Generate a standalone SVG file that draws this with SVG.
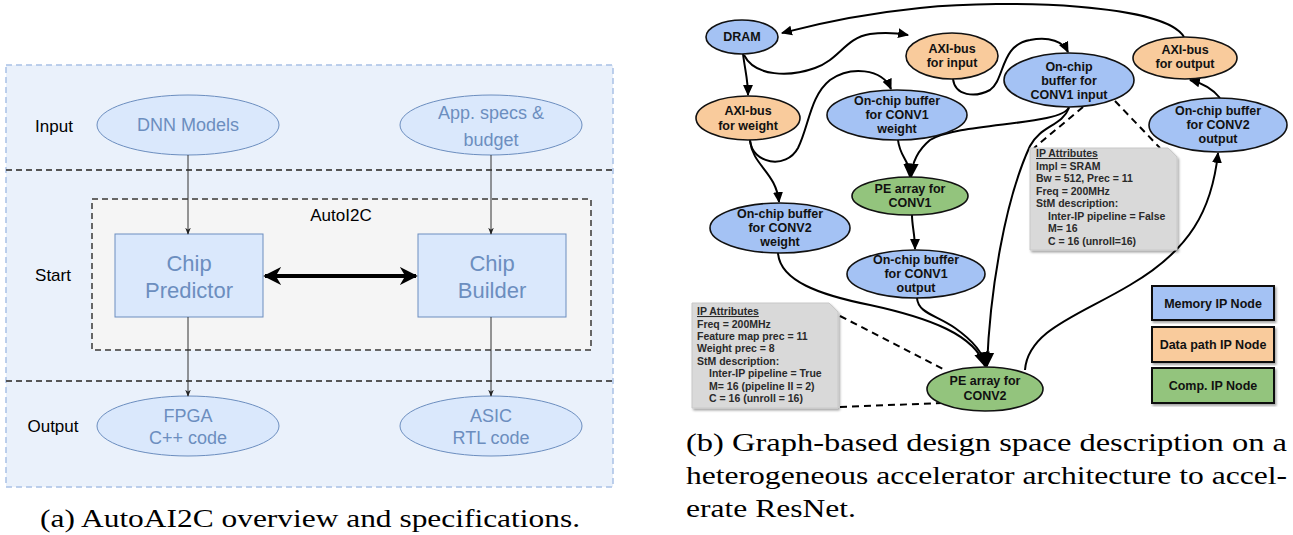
<svg xmlns="http://www.w3.org/2000/svg" width="1293" height="535" viewBox="0 0 1293 535">
<defs>
<marker id="sa" viewBox="0 0 10 10" refX="9" refY="5" markerWidth="7" markerHeight="7" markerUnits="userSpaceOnUse" orient="auto"><path d="M0,1 L10,5 L0,9 L3,5 Z" fill="#222"/></marker>
<marker id="big" viewBox="0 0 10 10" refX="9" refY="5" markerWidth="18" markerHeight="18" markerUnits="userSpaceOnUse" orient="auto-start-reverse"><path d="M0,0 L10,5 L0,10 L3,5 Z" fill="#000"/></marker>
<marker id="ar" viewBox="0 0 10 10" refX="9" refY="5" markerWidth="11" markerHeight="11" markerUnits="userSpaceOnUse" orient="auto"><path d="M0,0.5 L10,5 L0,9.5 Z" fill="#000"/></marker>
<marker id="ab" viewBox="0 0 10 10" refX="9" refY="5" markerWidth="15" markerHeight="15" markerUnits="userSpaceOnUse" orient="auto"><path d="M0,0.5 L10,5 L0,9.5 Z" fill="#000"/></marker>
<filter id="sh" x="-5%" y="-5%" width="115%" height="115%"><feDropShadow dx="1.5" dy="2" stdDeviation="1.2" flood-color="#000" flood-opacity="0.35"/></filter>
</defs>
<style>
.lbl{font-family:"Liberation Sans",Arial,sans-serif;font-size:17px;fill:#000;text-anchor:middle}
.etx{font-family:"Liberation Sans",Arial,sans-serif;font-size:18px;fill:#6c8ebf;text-anchor:middle}
.btx{font-family:"Liberation Sans",Arial,sans-serif;font-size:22px;fill:#6c8ebf;text-anchor:middle}
.le{fill:#dae8fc;stroke:#6c8ebf;stroke-width:1}
.ln{stroke:#333;stroke-width:1;fill:none;marker-end:url(#sa)}
.cap{font-family:"Liberation Serif","Times New Roman",serif;font-size:25px;fill:#000}
.mem{fill:#a4c2f4;stroke:#111;stroke-width:1.6}
.dp{fill:#f9cb9c;stroke:#111;stroke-width:1.6}
.cp{fill:#93c47d;stroke:#111;stroke-width:1.6}
.nt{font-family:"Liberation Sans",Arial,sans-serif;font-size:12.5px;font-weight:bold;fill:#111;text-anchor:middle}
.c{fill:none;stroke:#000;stroke-width:2;marker-end:url(#ar)}
.cb{fill:none;stroke:#000;stroke-width:2;marker-end:url(#ab)}
.d{fill:none;stroke:#000;stroke-width:2;stroke-dasharray:7,5}
.ip{fill:#d9d9d9;stroke:#c8c8c8;stroke-width:1}
.it{font-family:"Liberation Sans",Arial,sans-serif;font-size:10.5px;font-weight:bold;fill:#2a2a2a}
.lg{stroke:#111;stroke-width:2}
</style>

<!-- Left panel -->
<g id="panel-a">
<rect x="6" y="65" width="607" height="422" fill="#eaf1fb" stroke="#a9c1e6" stroke-width="1.5" stroke-dasharray="6,4"/>
<line x1="6" y1="170" x2="613" y2="170" stroke="#555" stroke-width="2" stroke-dasharray="6,4"/>
<line x1="6" y1="381" x2="613" y2="381" stroke="#555" stroke-width="2" stroke-dasharray="6,4"/>
<text class="lbl" x="54" y="132">Input</text>
<text class="lbl" x="53" y="281">Start</text>
<text class="lbl" x="53" y="432">Output</text>
</g>
<g id="autoi2c">
<rect x="92" y="199" width="499" height="151" fill="#f5f5f5" stroke="#666" stroke-width="2" stroke-dasharray="6,4"/>
<text class="lbl" x="341" y="221">AutoI2C</text>
</g>
<g id="dnn"><ellipse class="le" cx="188" cy="125" rx="91" ry="30"/><text class="etx" x="188" y="131">DNN Models</text></g>
<g id="appspecs"><ellipse class="le" cx="491" cy="125" rx="91" ry="30"/><text class="etx" x="491" y="119">App. specs &amp;</text><text class="etx" x="491" y="146">budget</text></g>
<g id="predictor"><rect class="le" x="115" y="234" width="148" height="83"/><text class="btx" x="189" y="271">Chip</text><text class="btx" x="189" y="298">Predictor</text></g>
<g id="builder"><rect class="le" x="418" y="234" width="148" height="83"/><text class="btx" x="492" y="271">Chip</text><text class="btx" x="492" y="298">Builder</text></g>
<g id="fpga"><ellipse class="le" cx="188" cy="426" rx="91" ry="30"/><text class="etx" x="188" y="422">FPGA</text><text class="etx" x="188" y="444">C++ code</text></g>
<g id="asic"><ellipse class="le" cx="491" cy="426" rx="91" ry="30"/><text class="etx" x="491" y="422">ASIC</text><text class="etx" x="491" y="444">RTL code</text></g>
<g id="connectors-a">
<line class="ln" x1="188" y1="155" x2="188" y2="234"/>
<line class="ln" x1="491" y1="155" x2="491" y2="234"/>
<line class="ln" x1="188" y1="317" x2="188" y2="396"/>
<line class="ln" x1="491" y1="317" x2="491" y2="396"/>
<line x1="265" y1="276" x2="416" y2="276" stroke="#000" stroke-width="4" marker-start="url(#big)" marker-end="url(#big)"/>
</g>
<text class="cap" x="40" y="527" textLength="540" lengthAdjust="spacingAndGlyphs">(a) AutoAI2C overview and specifications.</text>

<!-- Right panel connectors -->
<g id="connectors-b">
<path class="c" d="M1184,37 C1165,4 1010,-1 920,8 C850,15 805,27 782,33"/>
<path class="c" d="M744,55 C755,77 790,77 815,68 C840,59 845,38 870,34 C885,32 897,33 908,35"/>
<path class="c" d="M743,54 C745,70 748,80 748,95"/>
<path class="c" d="M750,140 C752,164 786,170 798,148 C809,126 810,96 830,80 C850,66 882,68 891,89"/>
<path class="c" d="M750,141 C753,166 776,172 779,202"/>
<path class="c" d="M953,79 C955,96 975,98 990,90 C1005,80 1000,45 1030,40 C1050,36 1063,42 1068,52"/>
<path class="cb" d="M898,140 C900,158 910,160 910,177"/>
<path class="cb" d="M1069,107 C1062,126 960,122 930,140 C918,150 912,162 911,177"/>
<path class="cb" d="M1069,108 C1062,126 1040,126 1030,146 C1005,200 990,290 987,366"/>
<path class="c" d="M912,215 C912,226 915,235 915,249"/>
<path class="cb" d="M917,298 C918,313 936,315 955,328 C972,340 983,352 986,366"/>
<path class="cb" d="M778,253 C780,281 820,295 870,305 C930,318 975,335 985,366"/>
<path class="c" d="M1025,370 C1028,330 1080,315 1130,285 C1190,250 1212,210 1218,153"/>
<path class="c" d="M1220,98 C1212,88 1202,83 1190,80"/>
<path class="d" d="M1083,107 L1034,148"/>
<path class="d" d="M1115,101 L1160,148"/>
<path class="d" d="M840,316 L943,369"/>
<path class="d" d="M840,407 L942,403"/>
</g>

<!-- Right panel nodes -->
<g id="dram"><ellipse class="mem" cx="742" cy="37" rx="36" ry="17"/><text class="nt" x="742" y="41">DRAM</text></g>
<g id="axi-input"><ellipse class="dp" cx="952" cy="56" rx="46" ry="23"/><text class="nt" x="952" y="53">AXI-bus</text><text class="nt" x="952" y="67">for input</text></g>
<g id="axi-weight"><ellipse class="dp" cx="748" cy="118" rx="52" ry="22"/><text class="nt" x="748" y="115">AXI-bus</text><text class="nt" x="748" y="130">for weight</text></g>
<g id="buf-conv1-weight"><ellipse class="mem" cx="897" cy="115" rx="70" ry="25"/><text class="nt" x="897" y="105">On-chip buffer</text><text class="nt" x="897" y="119">for CONV1</text><text class="nt" x="897" y="133">weight</text></g>
<g id="buf-conv1-input"><ellipse class="mem" cx="1069" cy="80" rx="65" ry="27"/><text class="nt" x="1069" y="71">On-chip</text><text class="nt" x="1069" y="85">buffer for</text><text class="nt" x="1069" y="99">CONV1 input</text></g>
<g id="axi-output"><ellipse class="dp" cx="1185" cy="58" rx="52" ry="21"/><text class="nt" x="1185" y="54">AXI-bus</text><text class="nt" x="1185" y="68">for output</text></g>
<g id="buf-conv2-output"><ellipse class="mem" cx="1218" cy="125" rx="69" ry="27"/><text class="nt" x="1218" y="115">On-chip buffer</text><text class="nt" x="1218" y="129">for CONV2</text><text class="nt" x="1218" y="143">output</text></g>
<g id="pe-conv1"><ellipse class="cp" cx="910" cy="196" rx="58" ry="19"/><text class="nt" x="910" y="193">PE array for</text><text class="nt" x="910" y="207">CONV1</text></g>
<g id="buf-conv2-weight"><ellipse class="mem" cx="780" cy="228" rx="70" ry="25"/><text class="nt" x="780" y="218">On-chip buffer</text><text class="nt" x="780" y="232">for CONV2</text><text class="nt" x="780" y="246">weight</text></g>
<g id="buf-conv1-output"><ellipse class="mem" cx="916" cy="274" rx="69" ry="24"/><text class="nt" x="916" y="264">On-chip buffer</text><text class="nt" x="916" y="278">for CONV1</text><text class="nt" x="916" y="292">output</text></g>
<g id="pe-conv2"><ellipse class="cp" cx="985" cy="389" rx="58" ry="22"/><text class="nt" x="985" y="385">PE array for</text><text class="nt" x="985" y="400">CONV2</text></g>

<g id="ip-attr-1">
<path class="ip" filter="url(#sh)" d="M1030,148 L1168,148 L1177,157 L1177,250 L1030,250 Z"/>
<text class="it" x="1036" y="157" text-decoration="underline">IP Attributes</text>
<text class="it" x="1036" y="169.5">Impl = SRAM</text>
<text class="it" x="1036" y="182">Bw = 512, Prec = 11</text>
<text class="it" x="1036" y="194.5">Freq = 200MHz</text>
<text class="it" x="1036" y="207">StM description:</text>
<text class="it" x="1048" y="219.5">Inter-IP pipeline = False</text>
<text class="it" x="1048" y="232">M= 16</text>
<text class="it" x="1048" y="244.5">C = 16 (unroll=16)</text>
</g>
<g id="ip-attr-2">
<path class="ip" filter="url(#sh)" d="M692,303 L829,303 L838,312 L838,408 L692,408 Z"/>
<text class="it" x="697" y="315" text-decoration="underline">IP Attributes</text>
<text class="it" x="697" y="327.5">Freq = 200MHz</text>
<text class="it" x="697" y="340">Feature map prec = 11</text>
<text class="it" x="697" y="352">Weight prec = 8</text>
<text class="it" x="697" y="364.5">StM description:</text>
<text class="it" x="709" y="377">Inter-IP pipeline = True</text>
<text class="it" x="709" y="389.5">M= 16 (pipeline II = 2)</text>
<text class="it" x="709" y="402">C = 16 (unroll = 16)</text>
</g>

<g id="legend-memory"><rect class="lg mem" x="1152" y="286" width="122" height="34" filter="url(#sh)"/><text class="nt" x="1213" y="308">Memory IP Node</text></g>
<g id="legend-datapath"><rect class="lg dp" x="1152" y="327" width="122" height="35" filter="url(#sh)"/><text class="nt" x="1213" y="349">Data path IP Node</text></g>
<g id="legend-comp"><rect class="lg cp" x="1152" y="368" width="122" height="35" filter="url(#sh)"/><text class="nt" x="1213" y="390">Comp. IP Node</text></g>

<text class="cap" x="686" y="451" textLength="601" lengthAdjust="spacingAndGlyphs">(b) Graph-based design space description on a</text>
<text class="cap" x="686" y="484" textLength="601" lengthAdjust="spacingAndGlyphs">heterogeneous accelerator architecture to accel-</text>
<text class="cap" x="686" y="517" textLength="170" lengthAdjust="spacingAndGlyphs">erate ResNet.</text>
</svg>
